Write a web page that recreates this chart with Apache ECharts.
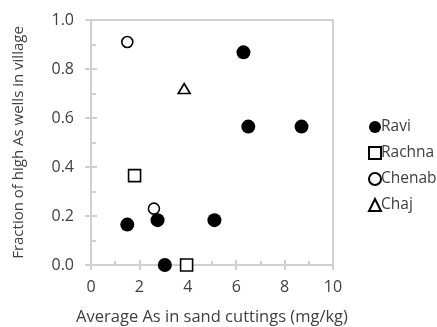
<!DOCTYPE html>
<html>
<head>
<meta charset="utf-8">
<script src="https://cdn.jsdelivr.net/npm/echarts@6/dist/echarts.min.js"></script>
<style>
  html, body { margin: 0; padding: 0; background: #fff; }
  #chart { width: 437px; height: 327px; }
</style>
</head>
<body>
<div id="chart"></div>
<script>
// data: [average As (mg/kg), fraction of high As wells]
const raviData = [[1.5, 0.165], [2.75, 0.183], [3.05, 0.0], [5.1, 0.183], [6.3, 0.868], [6.5, 0.565], [8.7, 0.565]]
const rachnaData = [[1.8, 0.365], [3.95, 0.0]]
const chenabData = [[1.5, 0.91], [2.6, 0.23]]
const chajData = [[3.85, 0.72]]

const seriesNames = ['Ravi', 'Rachna', 'Chenab', 'Chaj']
const xTitle = 'Average As in sand cuttings (mg/kg)'
const yTitle = 'Fraction of high As wells in village'

const font = 'Open Sans'
const textColor = '#404040'
const axisColor = '#d0d0d0'

let myChart = echarts.init(document.getElementById('chart'))

// 空心符号的样式
const openStyle = { color: '#fff', borderColor: '#000', borderWidth: 1.6, opacity: 1 }
const tickStyle = { color: axisColor, width: 2 }

myChart.setOption({
    animation: false,
    textStyle: { fontFamily: font },
    grid: {
        left: 91,
        right: 104,
        top: 20,
        bottom: 62,
        outerBoundsMode: 'none', // 不要自动收缩绘图区
        show: true,
        borderColor: '#c4c4c4',
        borderWidth: 1.5
    },
    legend: {
        orient: 'vertical',
        left: 363,
        top: 114,
        itemGap: 10,
        itemWidth: 12,
        itemHeight: 12,
        data: seriesNames,
        textStyle: { fontFamily: font, fontSize: 15.5, lineHeight: 16, color: textColor, padding: [0, 0, 0, -5] }
    },
    xAxis: [
        {
            // 主坐标轴：标签+外侧刻度
            type: 'value',
            min: 0,
            max: 10,
            interval: 2,
            name: xTitle,
            nameLocation: 'middle',
            nameGap: 44,
            nameTextStyle: { fontSize: 16.5, color: textColor },
            axisLine: { lineStyle: { color: axisColor, width: 2 } },
            axisTick: { show: true, length: 5, lineStyle: tickStyle },
            axisLabel: { fontSize: 16, color: textColor, margin: 14 },
            splitLine: { show: false }
        },
        {
            // 内侧刻度（主刻度穿过坐标轴）
            type: 'value',
            position: 'bottom',
            min: 0,
            max: 10,
            interval: 2,
            axisLine: { show: false },
            axisTick: { show: true, inside: true, length: 5, lineStyle: tickStyle },
            minorTick: { show: true, splitNumber: 2, length: 4, lineStyle: tickStyle },
            axisLabel: { show: false },
            splitLine: { show: false }
        }
    ],
    yAxis: [
        {
            type: 'value',
            min: 0,
            max: 1,
            interval: 0.2,
            name: yTitle,
            nameLocation: 'middle',
            nameGap: 65,
            nameRotate: 90,
            nameTextStyle: { fontSize: 15, color: textColor },
            axisLine: { show: true, lineStyle: { color: axisColor, width: 2 } },
            axisTick: { show: true, length: 6, lineStyle: tickStyle },
            axisLabel: {
                fontSize: 16,
                color: textColor,
                margin: 17,
                formatter: v => v.toFixed(1)
            },
            splitLine: { show: false }
        },
        {
            type: 'value',
            position: 'left',
            min: 0,
            max: 1,
            interval: 0.2,
            axisLine: { show: false },
            axisTick: { show: true, inside: true, length: 6, lineStyle: tickStyle },
            minorTick: { show: true, splitNumber: 2, length: 5, lineStyle: tickStyle },
            axisLabel: { show: false },
            splitLine: { show: false }
        }
    ],
    series: [
        {
            name: 'Ravi',
            type: 'scatter',
            symbol: 'circle',
            symbolSize: 14,
            itemStyle: { color: '#000', opacity: 1 },
            data: raviData
        },
        {
            name: 'Rachna',
            type: 'scatter',
            symbol: 'rect',
            symbolSize: 12,
            itemStyle: openStyle,
            data: rachnaData
        },
        {
            name: 'Chenab',
            type: 'scatter',
            symbol: 'circle',
            symbolSize: 11,
            itemStyle: openStyle,
            data: chenabData
        },
        {
            name: 'Chaj',
            type: 'scatter',
            symbol: 'triangle',
            symbolSize: [12, 10],
            itemStyle: openStyle,
            data: chajData
        }
    ]
})
</script>
</body>
</html>
